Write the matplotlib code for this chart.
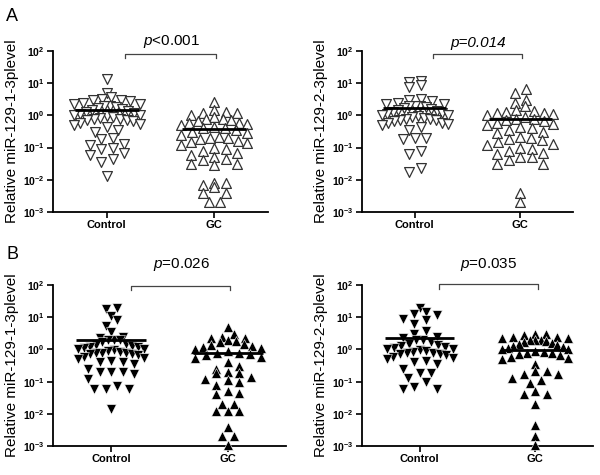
import numpy as np
import matplotlib
matplotlib.use("Agg")
import matplotlib.pyplot as plt

plt.rcParams['font.family'] = ['Liberation Sans', 'DejaVu Sans']
plt.rcParams['mathtext.fontset'] = 'custom'
plt.rcParams['mathtext.rm'] = 'Liberation Sans'
plt.rcParams['mathtext.it'] = 'Liberation Sans:italic'
plt.rcParams['mathtext.bf'] = 'Liberation Sans:bold'

# ---------------- data ----------------
groups = ["Control", "GC"]

a1_control = [13.8, 4.8, 3.7, 3.3, 3.0, 3.0, 2.8, 2.5, 2.3, 2.2, 2.0, 2.0, 1.8, 1.7, 1.6,
              1.5, 1.4, 1.3, 1.2, 1.1, 1.0, 1.0, 0.95, 0.9, 0.85, 0.8, 0.75, 0.7, 0.7, 0.65,
              0.6, 0.55, 0.5, 0.45, 0.35, 0.3, 0.2, 0.18, 0.13, 0.12, 0.1, 0.09, 0.07, 0.06,
              0.045, 0.035, 0.013]
a1_gc = [2.6, 1.5, 1.3, 1.2, 1.2, 1.0, 0.9, 0.8, 0.75, 0.7, 0.65, 0.6, 0.6, 0.55, 0.5,
         0.45, 0.4, 0.4, 0.35, 0.3, 0.28, 0.25, 0.22, 0.2, 0.2, 0.18, 0.16, 0.15, 0.14, 0.12,
         0.1, 0.09, 0.08, 0.07, 0.06, 0.05, 0.045, 0.04, 0.03, 0.03, 0.028, 0.008, 0.008,
         0.007, 0.006, 0.004, 0.004, 0.002, 0.002]

a2_control = [12, 11, 8.5, 7.5, 3.2, 3.0, 2.8, 2.5, 2.3, 2.2, 2.0, 2.0, 1.9, 1.8, 1.7, 1.6,
              1.5, 1.4, 1.3, 1.2, 1.1, 1.0, 1.0, 0.95, 0.9, 0.85, 0.8, 0.75, 0.7, 0.7, 0.65,
              0.6, 0.6, 0.55, 0.5, 0.45, 0.35, 0.2, 0.2, 0.19, 0.08, 0.065, 0.023, 0.017]
a2_gc = [6.5, 5.0, 3.0, 2.5, 2.0, 1.5, 1.4, 1.3, 1.2, 1.2, 1.1, 1.0, 0.9, 0.8, 0.75, 0.7,
         0.65, 0.6, 0.55, 0.5, 0.45, 0.4, 0.35, 0.3, 0.28, 0.22, 0.2, 0.18, 0.17, 0.15,
         0.13, 0.12, 0.1, 0.09, 0.08, 0.07, 0.065, 0.05, 0.05, 0.04, 0.032, 0.032, 0.004,
         0.002]

b1_control = [20, 18, 11, 8, 5.5, 3.5, 2.4, 2.2, 2.0, 2.0, 1.9, 1.7, 1.5, 1.4, 1.3, 1.2,
              1.2, 1.1, 1.0, 1.0, 0.95, 0.9, 0.85, 0.8, 0.8, 0.75, 0.7, 0.7, 0.65, 0.6, 0.55,
              0.5, 0.45, 0.42, 0.4, 0.35, 0.25, 0.2, 0.2, 0.2, 0.17, 0.12, 0.075, 0.06, 0.06,
              0.06, 0.014]
b1_gc = [5.0, 3.0, 2.5, 2.3, 2.2, 2.0, 1.8, 1.7, 1.5, 1.4, 1.3, 1.2, 1.1, 1.0, 0.9, 0.8,
         0.75, 0.7, 0.65, 0.6, 0.55, 0.4, 0.3, 0.25, 0.2, 0.18, 0.18, 0.14, 0.12, 0.11, 0.1,
         0.08, 0.05, 0.045, 0.04, 0.02, 0.02, 0.012, 0.012, 0.012, 0.004, 0.002, 0.002,
         0.0011]

b2_control = [19, 14, 13, 12, 9, 8, 6, 3.7, 3.0, 2.5, 2.2, 2.0, 1.9, 1.7, 1.5, 1.4, 1.3,
              1.2, 1.1, 1.0, 1.0, 0.95, 0.9, 0.85, 0.8, 0.75, 0.7, 0.7, 0.65, 0.6, 0.55,
              0.5, 0.45, 0.4, 0.35, 0.25, 0.19, 0.19, 0.13, 0.1, 0.07, 0.06, 0.06]
b2_gc = [3.0, 3.0, 2.8, 2.5, 2.5, 2.3, 2.2, 2.0, 2.0, 1.9, 1.8, 1.7, 1.6, 1.5, 1.4, 1.3,
         1.2, 1.1, 1.0, 1.0, 0.9, 0.85, 0.8, 0.75, 0.7, 0.65, 0.6, 0.55, 0.5, 0.35, 0.22,
         0.22, 0.17, 0.17, 0.13, 0.11, 0.09, 0.05, 0.042, 0.042, 0.02, 0.0045, 0.002,
         0.0011]

means = {"a1": [1.45, 0.37], "a2": [1.7, 0.8], "b1": [1.95, 0.8], "b2": [2.3, 0.96]}
p_texts = {"a1": r"$\mathit{p}$<0.001", "a2": "p=0.014",
           "b1": r"$\mathit{p}$=0.026", "b2": r"$\mathit{p}$=0.035"}
ylabels = {"a1": "Relative miR-129-1-3plevel", "a2": "Relative miR-129-2-3plevel",
           "b1": "Relative miR-129-1-3plevel", "b2": "Relative miR-129-2-3plevel"}
yticks = [1e-3, 1e-2, 1e-1, 1e0, 1e1, 1e2]
ytick_labels = [r"$\mathbf{10^{-3}}$", r"$\mathbf{10^{-2}}$", r"$\mathbf{10^{-1}}$",
                r"$\mathbf{10^{0}}$", r"$\mathbf{10^{1}}$", r"$\mathbf{10^{2}}$"]

# axes box in pixels (left, right, top, bottom), bracket (y, tick end), p-text y (log10)
panels = {
    "a1": (a1_control, a1_gc, "open", [53, 268, 51, 212], (1.90, 1.78), 2.04),
    "a2": (a2_control, a2_gc, "open", [362, 573, 51, 212], (1.90, 1.78), 2.04),
    "b1": (b1_control, b1_gc, "filled", [53, 286, 285, 446], (1.97, 1.83), 2.36),
    "b2": (b2_control, b2_gc, "filled", [362, 593, 285, 446], (2.02, 1.88), 2.36),
}

W, H = 600, 475


def binned_scatter(vals, px_per_unit, px_per_dec, bin_px=10.0, gap_px=11.5, cap_px=33.0):
    """GraphPad-like column scatter: points in the same y-bin are spread in a row."""
    y = np.log10(np.asarray(vals, float)) * px_per_dec
    bins = np.floor(y / bin_px).astype(int)
    xs = np.zeros(len(y))
    for b in np.unique(bins):
        idx = np.where(bins == b)[0]
        n = len(idx)
        if n == 1:
            continue
        gap = min(gap_px, 2 * cap_px / (n - 1))
        pos = (np.arange(n) - (n - 1) / 2.0) * gap
        order = np.argsort(y[idx])
        perm = np.concatenate([order[::2], order[1::2][::-1]])
        xs[idx[perm]] = pos
    return xs / px_per_unit


fig = plt.figure(figsize=(6, 4.75), dpi=100)

for key, (ctrl, gc, style, (x0, x1, yt, yb), (by, bt), ty) in panels.items():
    ax = fig.add_axes([x0 / W, 1 - yb / H, (x1 - x0) / W, (yb - yt) / H])
    ax.set_yscale("log")
    ax.set_ylim(1e-3, 1e2)
    ax.set_xlim(0.5, 2.5)
    px_unit = (x1 - x0) / 2.0
    px_dec = (yb - yt) / 5.0
    for gi, (vals, mk) in enumerate([(ctrl, "v"), (gc, "^")]):
        xs = binned_scatter(vals, px_unit, px_dec) + gi + 1
        if style == "open":
            ax.scatter(xs, vals, marker=mk, s=50, facecolors="white", edgecolors="#333333",
                       linewidths=0.9, zorder=3, clip_on=False)
        else:
            ax.scatter(xs, vals, marker=mk, s=50, facecolors="black", edgecolors="white",
                       linewidths=0.4, zorder=3, clip_on=False)
        ax.plot([gi + 1 - 0.3, gi + 1 + 0.3], [means[key][gi]] * 2, color="black",
                lw=2, zorder=4, solid_capstyle="butt")
    for s in ["top", "right"]:
        ax.spines[s].set_visible(False)
    for s in ["left", "bottom"]:
        ax.spines[s].set_linewidth(1.3)
    ax.set_yticks(yticks)
    ax.set_yticklabels(ytick_labels, fontsize=7.5)
    ax.yaxis.set_minor_locator(matplotlib.ticker.NullLocator())
    ax.set_xticks([1, 2])
    ax.set_xticklabels(groups, fontsize=8, fontweight="bold")
    ax.tick_params(axis="both", length=4, width=1.2, pad=2)
    ax.set_ylabel(ylabels[key], fontsize=11, labelpad=3)
    ax.plot([1.17, 1.17, 2.02, 2.02], [10 ** bt, 10 ** by, 10 ** by, 10 ** bt],
            color="#444444", lw=0.9, clip_on=False)
    ax.text(1.6, 10 ** ty, p_texts[key], ha="center", va="bottom", fontsize=11,
            fontstyle="italic" if key == "a2" else "normal", clip_on=False)

fig.text(6 / W, 1 - 21 / H, "A", fontsize=13)
fig.text(6 / W, 1 - 259 / H, "B", fontsize=13)

fig.savefig("out.png", dpi=100)
